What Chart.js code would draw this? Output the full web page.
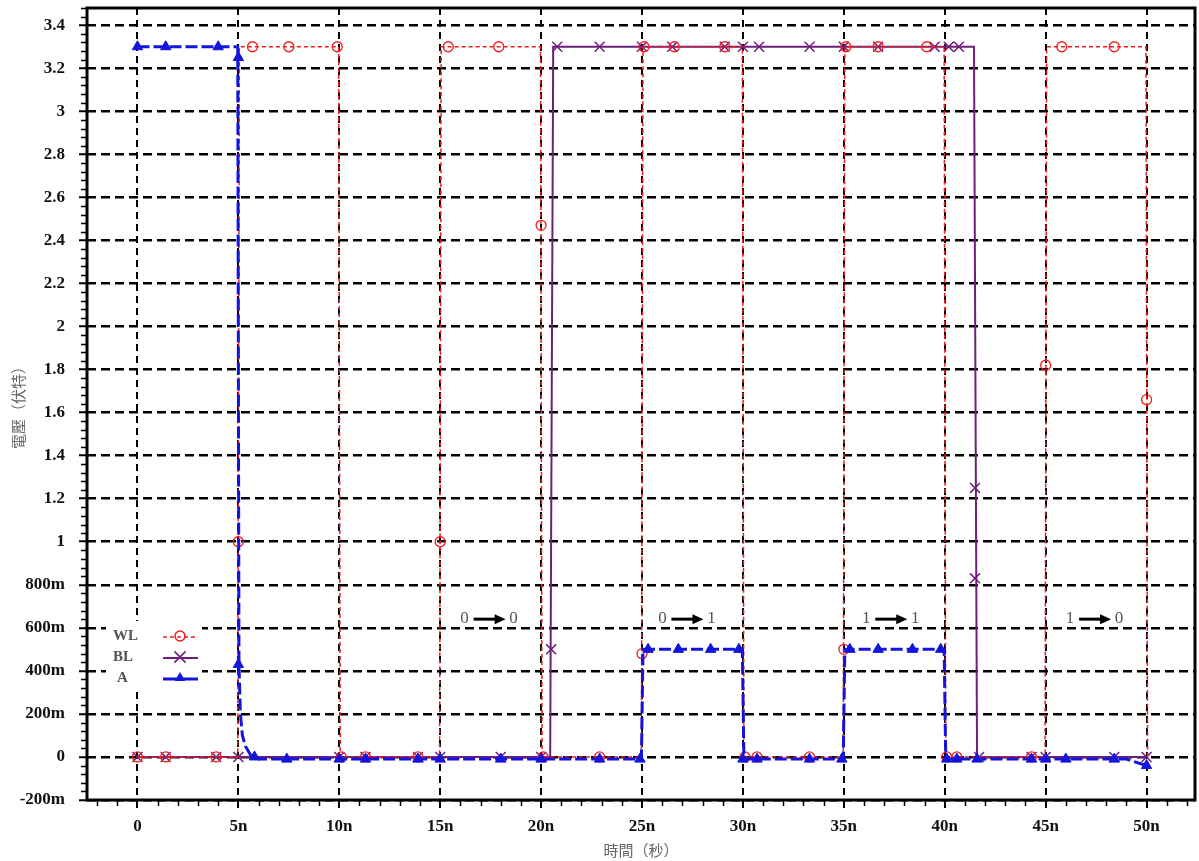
<!DOCTYPE html>
<html>
<head>
<meta charset="utf-8">
<script src="https://cdn.jsdelivr.net/npm/chart.js@4.4.1/dist/chart.umd.min.js"></script>
<style>
  html, body { margin: 0; padding: 0; background: #fff; }
  #wrap { width: 1199px; height: 861px; }
</style>
</head>
<body>
<div id="wrap"><canvas id="wave" width="1199" height="861"></canvas></div>
<script>
// time in ns, voltage in V
const xTicks = [0, 5, 10, 15, 20, 25, 30, 35, 40, 45, 50];
const xTickLabels = ['0', '5n', '10n', '15n', '20n', '25n', '30n', '35n', '40n', '45n', '50n'];
const yTicks = [-0.2, 0, 0.2, 0.4, 0.6, 0.8, 1, 1.2, 1.4, 1.6, 1.8, 2, 2.2, 2.4, 2.6, 2.8, 3, 3.2, 3.4];
const yTickLabels = ['-200m', '0', '200m', '400m', '600m', '800m', '1', '1.2', '1.4', '1.6', '1.8',
  '2', '2.2', '2.4', '2.6', '2.8', '3', '3.2', '3.4'];

// WL word line
const wlTrace = [[0, 0], [4.97, 0], [5.05, 3.3], [9.97, 3.3], [10.05, 0], [14.97, 0], [15.05, 3.3],
  [19.97, 3.3], [20.05, 0], [24.97, 0], [25.05, 3.3], [29.97, 3.3], [30.05, 0], [34.97, 0],
  [35.05, 3.3], [39.97, 3.3], [40.05, 0], [44.97, 0], [45.05, 3.3], [49.97, 3.3], [50.05, 0]];
const wlMarks = [[0, 0], [1.4, 0], [3.9, 0], [5, 1.0], [5.7, 3.3], [7.5, 3.3], [9.9, 3.3], [10.1, 0],
  [11.3, 0], [13.9, 0], [15, 1.0], [15.4, 3.3], [17.9, 3.3], [20, 2.47], [20.1, 0], [22.9, 0],
  [25, 0.48], [25.1, 3.3], [26.6, 3.3], [29.1, 3.3], [30.1, 0], [30.7, 0], [33.3, 0], [35, 0.5],
  [35.1, 3.3], [36.7, 3.3], [39.1, 3.3], [40.1, 0], [40.6, 0], [44.3, 0], [45, 1.82], [45.8, 3.3],
  [48.4, 3.3], [50, 1.66]];

// BL bit line
const blTrace = [[0, 0], [20.45, 0], [20.6, 3.3], [41.45, 3.3], [41.6, 0], [50, 0]];
const blMarks = [[0, 0], [1.4, 0], [3.9, 0], [5, 0], [10, 0], [11.3, 0], [13.9, 0], [15, 0], [18, 0],
  [20, 0], [20.5, 0.5], [20.8, 3.3], [22.9, 3.3], [25, 3.3], [26.5, 3.3], [29.1, 3.3], [30, 3.3],
  [30.8, 3.3], [33.3, 3.3], [35, 3.3], [36.7, 3.3], [39.5, 3.3], [40.2, 3.3], [40.7, 3.3],
  [41.5, 1.25], [41.5, 0.83], [41.7, 0], [44.3, 0], [45, 0], [48.4, 0], [50, 0]];

// A storage node
const aTrace = [[0, 3.3], [4.97, 3.3], [5.03, 0.43], [5.1, 0.2], [5.2, 0.1], [5.35, 0.05], [5.6, 0.01],
  [6, -0.01], [24.97, -0.01], [25.05, 0.5], [29.97, 0.5], [30.05, -0.01], [34.97, -0.01],
  [35.05, 0.5], [39.97, 0.5], [40.05, -0.01], [49, -0.01], [50, -0.04]];
const aMarks = [[0, 3.3], [1.4, 3.3], [4, 3.3], [5, 3.25], [5, 0.43], [5.8, 0], [7.4, -0.01],
  [10, -0.01], [11.3, -0.01], [13.9, -0.01], [15, -0.01], [18, -0.01], [20, -0.01], [22.9, -0.01],
  [24.9, -0.01], [25.3, 0.5], [26.8, 0.5], [28.4, 0.5], [29.8, 0.5], [30, -0.01], [30.7, -0.01],
  [33.3, -0.01], [34.9, -0.01], [35.3, 0.5], [36.7, 0.5], [38.4, 0.5], [39.8, 0.5], [40.1, -0.01],
  [40.6, -0.01], [41.6, -0.01], [44.3, -0.01], [45, -0.01], [46, -0.01], [48.4, -0.01], [50, -0.04]];

// state annotations
const stateFrom = ['0', '0', '1', '1'];
const stateTo = ['0', '1', '1', '0'];
const stateTimes = [17.4, 27.2, 37.3, 47.4];
const stateLevel = 0.645;

const RED = '#f01e1e';
const PURPLE = '#6e1f7a';
const BLUE = '#1414dc';
const SERIF = '"Liberation Serif", "Times New Roman", serif';
const CJK = '"Noto Sans CJK TC", "Noto Sans CJK SC", sans-serif';

const pts = (arr) => arr.map(([x, y]) => ({ x, y }));

function drawMark(ctx, style, x, y, r, color) {
  ctx.save();
  ctx.strokeStyle = color;
  ctx.fillStyle = color;
  ctx.lineWidth = 1.5;
  ctx.setLineDash([]);
  ctx.beginPath();
  if (style === 'circle') {
    ctx.arc(x, y, r, 0, Math.PI * 2);
    ctx.stroke();
  } else if (style === 'crossRot') {
    ctx.moveTo(x - r * 0.7, y - r * 0.7); ctx.lineTo(x + r * 0.7, y + r * 0.7);
    ctx.moveTo(x + r * 0.7, y - r * 0.7); ctx.lineTo(x - r * 0.7, y + r * 0.7);
    ctx.stroke();
  } else {
    ctx.moveTo(x, y - r); ctx.lineTo(x + r * 0.87, y + r * 0.5); ctx.lineTo(x - r * 0.87, y + r * 0.5);
    ctx.closePath();
    ctx.fill();
  }
  ctx.restore();
}

const extras = {
  id: 'extras',
  beforeDatasetsDraw(chart) {
    const { ctx } = chart;
    ctx.save();
    // legend box
    ctx.fillStyle = '#fff';
    ctx.fillRect(106, 621, 96, 70);
    ctx.font = 'bold 15px ' + SERIF;
    ctx.fillStyle = '#555';
    ctx.textBaseline = 'middle';
    ctx.textAlign = 'left';
    const rows = [
      { t: 'WL', y: 636, color: RED, w: 1.5, dash: [4, 3], mark: 'circle', r: 5 },
      { t: 'BL', y: 657, color: PURPLE, w: 2, dash: [], mark: 'crossRot', r: 8 },
      { t: 'A', y: 678, color: BLUE, w: 3, dash: [], mark: 'triangle', r: 6 },
    ];
    rows.forEach((row) => {
      ctx.fillText(row.t, row.t === 'A' ? 117 : 113, row.y);
      ctx.save();
      ctx.strokeStyle = row.color;
      ctx.lineWidth = row.w;
      ctx.setLineDash(row.dash);
      ctx.beginPath();
      ctx.moveTo(163, row.y + 1);
      ctx.lineTo(198, row.y + 1);
      ctx.stroke();
      ctx.restore();
      drawMark(ctx, row.mark, 180, row.y, row.r, row.color);
    });
    ctx.restore();
  },
  afterDraw(chart) {
    const { ctx, chartArea: a, scales: { x, y } } = chart;
    ctx.save();
    ctx.setLineDash([]);
    // frame
    ctx.strokeStyle = '#000';
    ctx.lineWidth = 3;
    ctx.strokeRect(a.left, a.top, a.right - a.left, a.bottom - a.top);
    // minor ticks
    ctx.lineWidth = 1.5;
    ctx.beginPath();
    for (let t = -2; t <= 52; t += 1) {
      if (t % 5 === 0) continue;
      const px = Math.round(x.getPixelForValue(t)) + 0.5;
      ctx.moveTo(px, a.bottom + 1);
      ctx.lineTo(px, a.bottom + 6);
    }
    for (let i = -5; i <= 87; i += 1) {
      if (i % 5 === 0) continue;
      const py = Math.round(y.getPixelForValue(i * 0.04)) + 0.5;
      ctx.moveTo(a.left - 1, py);
      ctx.lineTo(a.left - 6, py);
    }
    ctx.stroke();
    // state annotations
    ctx.font = '17px ' + SERIF;
    ctx.fillStyle = '#555';
    ctx.textBaseline = 'middle';
    ctx.textAlign = 'center';
    stateTimes.forEach((t, i) => {
      const cx = x.getPixelForValue(t);
      const cy = y.getPixelForValue(stateLevel);
      ctx.fillText(stateFrom[i], cx - 24, cy);
      ctx.fillText(stateTo[i], cx + 25, cy);
      ctx.strokeStyle = '#000';
      ctx.lineWidth = 3;
      ctx.beginPath();
      ctx.moveTo(cx - 15, cy + 1);
      ctx.lineTo(cx + 8, cy + 1);
      ctx.stroke();
      ctx.fillStyle = '#000';
      ctx.beginPath();
      ctx.moveTo(cx + 17, cy + 1);
      ctx.lineTo(cx + 6, cy - 4);
      ctx.lineTo(cx + 6, cy + 6);
      ctx.closePath();
      ctx.fill();
      ctx.fillStyle = '#555';
    });
    ctx.restore();
  },
};

new Chart(document.getElementById('wave'), {
  type: 'scatter',
  data: {
    datasets: [
      { label: 'A', data: pts(aTrace), showLine: true, borderColor: BLUE, borderWidth: 3,
        borderDash: [12, 4], pointRadius: 0, order: 1 },
      { label: 'A marks', data: pts(aMarks), showLine: false, pointStyle: 'triangle', pointRadius: 6,
        backgroundColor: BLUE, borderColor: BLUE, borderWidth: 1, order: 1 },
      { label: 'WL', data: pts(wlTrace), showLine: true, borderColor: RED, borderWidth: 1.5,
        borderDash: [4, 3], pointRadius: 0, order: 2 },
      { label: 'WL marks', data: pts(wlMarks), showLine: false, pointStyle: 'circle', pointRadius: 5,
        backgroundColor: 'rgba(0,0,0,0)', borderColor: RED, borderWidth: 1.3, order: 2 },
      { label: 'BL', data: pts(blTrace), showLine: true, borderColor: PURPLE, borderWidth: 2,
        pointRadius: 0, order: 3 },
      { label: 'BL marks', data: pts(blMarks), showLine: false, pointStyle: 'crossRot', pointRadius: 7,
        borderColor: PURPLE, borderWidth: 1.5, order: 3 },
    ],
  },
  options: {
    responsive: false,
    animation: false,
    layout: { autoPadding: false, padding: { top: 8, right: 4, left: 0, bottom: 0 } },
    plugins: { legend: { display: false }, tooltip: { enabled: false } },
    scales: {
      x: {
        type: 'linear',
        min: -2.5,
        max: 52.4,
        afterBuildTicks: (s) => { s.ticks = xTicks.map((v) => ({ value: v })); },
        afterFit: (s) => { s.height = 61; s.paddingLeft = 0; s.paddingRight = 0; },
        ticks: {
          callback: (v, i) => xTickLabels[i],
          font: { family: SERIF, size: 17, weight: 'bold' },
          color: '#111',
          padding: 8,
          maxRotation: 0,
          autoSkip: false,
        },
        grid: { color: '#000', lineWidth: 2, tickLength: 8, tickWidth: 2, tickColor: '#000' },
        border: { display: false, dash: [7, 5] },
        title: {
          display: true,
          text: '時間（秒）',
          font: { family: CJK, size: 15 },
          color: '#666',
          padding: { top: 0, bottom: 2 },
        },
      },
      y: {
        min: -0.2,
        max: 3.48,
        afterBuildTicks: (s) => { s.ticks = yTicks.map((v) => ({ value: v })); },
        afterFit: (s) => { s.width = 87; s.paddingTop = 0; s.paddingBottom = 0; },
        ticks: {
          callback: (v, i) => yTickLabels[i],
          font: { family: SERIF, size: 17, weight: 'bold' },
          color: '#111',
          padding: 14,
          autoSkip: false,
        },
        grid: { color: '#000', lineWidth: 2.5, tickLength: 8, tickWidth: 2, tickColor: '#000' },
        border: { display: false, dash: [9, 5] },
        title: {
          display: true,
          text: '電壓（伏特）',
          font: { family: CJK, size: 15 },
          color: '#666',
          padding: { top: 9, bottom: 0 },
        },
      },
    },
  },
  plugins: [extras],
});
</script>
</body>
</html>
